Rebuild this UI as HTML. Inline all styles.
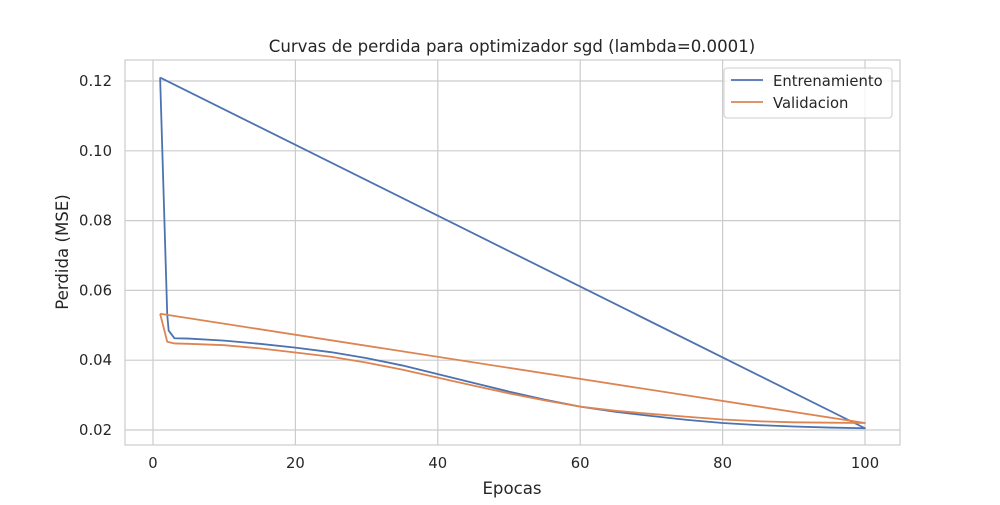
<!DOCTYPE html>
<html><head><meta charset="utf-8"><style>
body{margin:0;background:#fff;}
svg text{font-family:"DejaVu Sans","Liberation Sans",sans-serif;fill:#262626;}
</style></head><body>
<svg id="chart" width="1000" height="500">
<text x="512" y="52" text-anchor="middle" font-size="16.6">Curvas de perdida para optimizador sgd (lambda=0.0001)</text>
<g id="grid"></g>
<rect x="125" y="60" width="775" height="385" fill="none" stroke="#ccc" stroke-width="1.2"/>
<g id="series"></g>
<text x="512" y="494" text-anchor="middle" font-size="16.6">Epocas</text>
<text transform="translate(68,252) rotate(-90)" text-anchor="middle" font-size="16.6">Perdida (MSE)</text>
<g>
<rect x="724" y="68" width="168" height="50" rx="3" fill="#fff" fill-opacity="0.8" stroke="#ccc"/>
<line x1="731" y1="80" x2="763" y2="80" stroke="#4c72b0" stroke-width="1.8"/>
<text x="773" y="86" font-size="14.8">Entrenamiento</text>
<line x1="731" y1="102" x2="763" y2="102" stroke="#dd8452" stroke-width="1.8"/>
<text x="773" y="108" font-size="14.8">Validacion</text>
</g>
</svg>
<script>
const xTicks=[0,20,40,60,80,100];
const yTicks=[0.02,0.04,0.06,0.08,0.10,0.12];
const yTickLabels=["0.02","0.04","0.06","0.08","0.10","0.12"];
const trainEpochs=[1,2,2.2,3,5,10,15,20,25,30,35,40,45,50,55,60,65,70,75,80,85,90,95,100,1];
const trainLoss=[0.121,0.053,0.0485,0.0463,0.0462,0.0456,0.0447,0.0436,0.0423,0.0406,0.0385,0.036,0.0335,0.031,0.0287,0.0267,0.0252,0.024,0.0229,0.022,0.0214,0.021,0.0207,0.0205,0.121];
const valEpochs=[1,2,3,5,10,15,20,25,30,35,40,45,50,55,60,65,70,75,80,85,90,95,100,1];
const valLoss=[0.0533,0.0453,0.0448,0.0447,0.0443,0.0434,0.0422,0.041,0.0393,0.0373,0.035,0.0327,0.0305,0.0285,0.0267,0.0255,0.0246,0.0238,0.023,0.0225,0.0222,0.0221,0.022,0.0533];
const xs=v=>153+v*7.12;
const ys=v=>430-(v-0.02)/0.02*69.8;
const NS="http://www.w3.org/2000/svg";
const grid=document.getElementById('grid'),ser=document.getElementById('series');
function mk(t,a,p){const e=document.createElementNS(NS,t);for(const k in a)e.setAttribute(k,a[k]);p.appendChild(e);return e;}
xTicks.forEach(v=>{
 const l=mk('line',{x1:xs(v),x2:xs(v),y1:60,y2:445,stroke:'#ccc','stroke-width':1.2},grid);
 
 
 const t=mk('text',{x:xs(v),y:468,'text-anchor':'middle','font-size':14.8},grid);t.textContent=v;
 
 
});
yTicks.forEach((v,i)=>{
 const l=mk('line',{x1:125,x2:900,y1:ys(v),y2:ys(v),stroke:'#ccc','stroke-width':1.2},grid);
 
 
 const t=mk('text',{x:112,y:ys(v)+5,'text-anchor':'end','font-size':14.8},grid);t.textContent=yTickLabels[i];
 
 
});
function line(xa,ya,c,name){
 const p=mk('polyline',{points:xa.map((x,i)=>xs(x)+','+ys(ya[i])).join(' '),fill:'none',stroke:c,'stroke-width':1.8,'stroke-linejoin':'round'},ser);
 
 
}
line(trainEpochs,trainLoss,'#4c72b0','train-loss-line');
line(valEpochs,valLoss,'#dd8452','validation-loss-line');
</script>
</body></html>
